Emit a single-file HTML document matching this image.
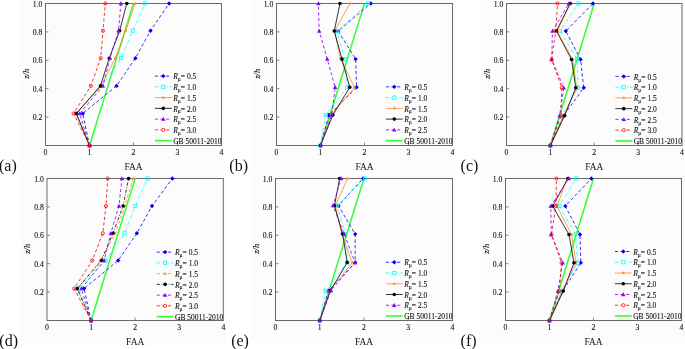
<!DOCTYPE html>
<html><head><meta charset="utf-8"><style>
html,body{margin:0;padding:0;background:#fff;}
body{width:685px;height:349px;overflow:hidden;}
svg{display:block;}
text{font-family:"Liberation Serif","Times New Roman",serif;fill:#111;stroke:#111;stroke-width:0.1px;}
.tl{font-size:7.7px;}
.xl{font-size:9.4px;stroke:none;}
.yl{font-size:8.5px;font-style:italic;}
.pl{font-size:16px;stroke:none;}
.lg{font-size:7.5px;}
.sb{font-size:5.6px;}
</style></head><body>
<svg width="685" height="349" viewBox="0 0 685 349">
<rect width="685" height="349" fill="#fff"/>
<g fill="#fcfcfc">
<rect x="18.5" y="0" width="205" height="170.5"/>
<rect x="250" y="0" width="206" height="170.5"/>
<rect x="480" y="0" width="205" height="170.5"/>
<rect x="21" y="175.3" width="205" height="170.3"/>
<rect x="250" y="175.3" width="205.5" height="170.3"/>
<rect x="479.5" y="175.3" width="205.5" height="170.3"/>
</g>
<g><rect x="45.5" y="3.5" width="176.00" height="142.00" fill="none" stroke="#6a6a6a" stroke-width="1"/>
<line x1="89.50" y1="145.50" x2="133.50" y2="3.50" stroke="#33ff33" stroke-width="1.5"/>
<polyline points="89.50,145.50 82.77,113.50 116.52,85.90 135.39,58.20 150.48,30.70 169.14,3.50" stroke="#0000ff" stroke-width="0.8" fill="none" stroke-dasharray="3.2,2.4"/>
<path d="M89.50,143.30L91.70,145.50L89.50,147.70L87.30,145.50Z" fill="#0000ff"/>
<path d="M82.77,111.30L84.97,113.50L82.77,115.70L80.57,113.50Z" fill="#0000ff"/>
<path d="M116.52,83.70L118.72,85.90L116.52,88.10L114.32,85.90Z" fill="#0000ff"/>
<path d="M135.39,56.00L137.59,58.20L135.39,60.40L133.19,58.20Z" fill="#0000ff"/>
<path d="M150.48,28.50L152.68,30.70L150.48,32.90L148.28,30.70Z" fill="#0000ff"/>
<path d="M169.14,1.30L171.34,3.50L169.14,5.70L166.94,3.50Z" fill="#0000ff"/>
<polyline points="89.50,145.50 76.30,113.50 101.82,85.90 121.18,58.20 132.80,30.70 144.94,3.50" stroke="#00ffff" stroke-width="0.8" fill="none" stroke-dasharray="3.2,1.6,0.8,1.6"/>
<rect x="87.90" y="143.90" width="3.20" height="3.20" fill="none" stroke="#00ffff" stroke-width="0.8"/>
<rect x="74.70" y="111.90" width="3.20" height="3.20" fill="none" stroke="#00ffff" stroke-width="0.8"/>
<rect x="100.22" y="84.30" width="3.20" height="3.20" fill="none" stroke="#00ffff" stroke-width="0.8"/>
<rect x="119.58" y="56.60" width="3.20" height="3.20" fill="none" stroke="#00ffff" stroke-width="0.8"/>
<rect x="131.20" y="29.10" width="3.20" height="3.20" fill="none" stroke="#00ffff" stroke-width="0.8"/>
<rect x="143.34" y="1.90" width="3.20" height="3.20" fill="none" stroke="#00ffff" stroke-width="0.8"/>
<polyline points="89.50,145.50 76.30,113.50 100.94,85.90 115.28,58.20 125.71,30.70 135.08,3.50" stroke="#ff8c26" stroke-width="0.8" fill="none"/>
<polygon points="89.50,143.50 89.97,144.85 91.40,144.88 90.26,145.75 90.68,147.12 89.50,146.30 88.32,147.12 88.74,145.75 87.60,144.88 89.03,144.85" fill="#ff8c26"/>
<polygon points="76.30,111.50 76.77,112.85 78.20,112.88 77.06,113.75 77.48,115.12 76.30,114.30 75.12,115.12 75.54,113.75 74.40,112.88 75.83,112.85" fill="#ff8c26"/>
<polygon points="100.94,83.90 101.41,85.25 102.84,85.28 101.70,86.15 102.12,87.52 100.94,86.70 99.76,87.52 100.18,86.15 99.04,85.28 100.47,85.25" fill="#ff8c26"/>
<polygon points="115.28,56.20 115.75,57.55 117.19,57.58 116.04,58.45 116.46,59.82 115.28,59.00 114.11,59.82 114.52,58.45 113.38,57.58 114.81,57.55" fill="#ff8c26"/>
<polygon points="125.71,28.70 126.18,30.05 127.61,30.08 126.47,30.95 126.89,32.32 125.71,31.50 124.54,32.32 124.95,30.95 123.81,30.08 125.24,30.05" fill="#ff8c26"/>
<polygon points="135.08,1.50 135.55,2.85 136.99,2.88 135.84,3.75 136.26,5.12 135.08,4.30 133.91,5.12 134.32,3.75 133.18,2.88 134.61,2.85" fill="#ff8c26"/>
<polyline points="89.50,145.50 76.30,113.50 100.41,85.90 109.30,58.20 119.64,30.70 126.81,3.50" stroke="#000000" stroke-width="0.8" fill="none"/>
<circle cx="89.50" cy="145.50" r="1.8" fill="#000000"/>
<circle cx="76.30" cy="113.50" r="1.8" fill="#000000"/>
<circle cx="100.41" cy="85.90" r="1.8" fill="#000000"/>
<circle cx="109.30" cy="58.20" r="1.8" fill="#000000"/>
<circle cx="119.64" cy="30.70" r="1.8" fill="#000000"/>
<circle cx="126.81" cy="3.50" r="1.8" fill="#000000"/>
<polyline points="89.50,145.50 79.69,113.50 103.01,85.90 109.92,58.20 118.50,30.70 120.92,3.50" stroke="#8000ff" stroke-width="0.8" fill="none" stroke-dasharray="3.2,2.4"/>
<path d="M89.50,143.30L91.70,147.15L87.30,147.15Z" fill="#8000ff"/>
<path d="M79.69,111.30L81.89,115.15L77.49,115.15Z" fill="#8000ff"/>
<path d="M103.01,83.70L105.21,87.55L100.81,87.55Z" fill="#8000ff"/>
<path d="M109.92,56.00L112.12,59.85L107.72,59.85Z" fill="#8000ff"/>
<path d="M118.50,28.50L120.70,32.35L116.30,32.35Z" fill="#8000ff"/>
<path d="M120.92,1.30L123.12,5.15L118.72,5.15Z" fill="#8000ff"/>
<polyline points="89.50,145.50 73.62,113.50 90.82,85.90 100.72,58.20 103.01,30.70 105.30,3.50" stroke="#ff0000" stroke-width="0.8" fill="none" stroke-dasharray="3.2,2.4"/>
<circle cx="89.50" cy="145.50" r="1.6" fill="none" stroke="#ff0000" stroke-width="0.8"/>
<circle cx="73.62" cy="113.50" r="1.6" fill="none" stroke="#ff0000" stroke-width="0.8"/>
<circle cx="90.82" cy="85.90" r="1.6" fill="none" stroke="#ff0000" stroke-width="0.8"/>
<circle cx="100.72" cy="58.20" r="1.6" fill="none" stroke="#ff0000" stroke-width="0.8"/>
<circle cx="103.01" cy="30.70" r="1.6" fill="none" stroke="#ff0000" stroke-width="0.8"/>
<circle cx="105.30" cy="3.50" r="1.6" fill="none" stroke="#ff0000" stroke-width="0.8"/>
<line x1="89.50" y1="145.5" x2="89.50" y2="142.5" stroke="#6a6a6a" stroke-width="0.8"/>
<line x1="133.50" y1="145.5" x2="133.50" y2="142.5" stroke="#6a6a6a" stroke-width="0.8"/>
<line x1="177.50" y1="145.5" x2="177.50" y2="142.5" stroke="#6a6a6a" stroke-width="0.8"/>
<line x1="45.5" y1="117.10" x2="48.5" y2="117.10" stroke="#6a6a6a" stroke-width="0.8"/>
<line x1="45.5" y1="88.70" x2="48.5" y2="88.70" stroke="#6a6a6a" stroke-width="0.8"/>
<line x1="45.5" y1="60.30" x2="48.5" y2="60.30" stroke="#6a6a6a" stroke-width="0.8"/>
<line x1="45.5" y1="31.90" x2="48.5" y2="31.90" stroke="#6a6a6a" stroke-width="0.8"/>
<text x="45.50" y="155.30" class="tl" text-anchor="middle">0</text>
<text x="89.50" y="155.30" class="tl" text-anchor="middle">1</text>
<text x="133.50" y="155.30" class="tl" text-anchor="middle">2</text>
<text x="177.50" y="155.30" class="tl" text-anchor="middle">3</text>
<text x="221.50" y="155.30" class="tl" text-anchor="middle">4</text>
<text x="42.30" y="120.20" class="tl" text-anchor="end">0.2</text>
<text x="42.30" y="91.80" class="tl" text-anchor="end">0.4</text>
<text x="42.30" y="63.40" class="tl" text-anchor="end">0.6</text>
<text x="42.30" y="35.00" class="tl" text-anchor="end">0.8</text>
<text x="42.30" y="6.60" class="tl" text-anchor="end">1.0</text>
<text x="133.50" y="169.50" class="xl" text-anchor="middle">FAA</text>
<text transform="translate(28.70,73.80) rotate(-90)" class="yl" text-anchor="middle">z/h</text>
<text x="-1" y="170.5" class="pl">(a)</text>
<line x1="154.90" y1="76.10" x2="171.70" y2="76.10" stroke="#0000ff" stroke-width="0.8" fill="none" stroke-dasharray="3.2,2.4"/>
<path d="M163.30,73.90L165.50,76.10L163.30,78.30L161.10,76.10Z" fill="#0000ff"/>
<text x="173.20" y="79.30" class="lg"><tspan font-style="italic">R</tspan><tspan class="sb" dy="1.9">μ</tspan><tspan dy="-1.9">= 0.5</tspan></text>
<line x1="154.90" y1="86.85" x2="171.70" y2="86.85" stroke="#00ffff" stroke-width="0.8" fill="none" stroke-dasharray="3.2,1.6,0.8,1.6"/>
<rect x="161.70" y="85.25" width="3.20" height="3.20" fill="#fff" stroke="#00ffff" stroke-width="0.8"/>
<text x="173.20" y="90.05" class="lg"><tspan font-style="italic">R</tspan><tspan class="sb" dy="1.9">μ</tspan><tspan dy="-1.9">= 1.0</tspan></text>
<line x1="154.90" y1="97.60" x2="171.70" y2="97.60" stroke="#ff8c26" stroke-width="0.8" fill="none"/>
<polygon points="163.30,95.60 163.77,96.95 165.20,96.98 164.06,97.85 164.48,99.22 163.30,98.40 162.12,99.22 162.54,97.85 161.40,96.98 162.83,96.95" fill="#ff8c26"/>
<text x="173.20" y="100.80" class="lg"><tspan font-style="italic">R</tspan><tspan class="sb" dy="1.9">μ</tspan><tspan dy="-1.9">= 1.5</tspan></text>
<line x1="154.90" y1="108.35" x2="171.70" y2="108.35" stroke="#000000" stroke-width="0.8" fill="none"/>
<circle cx="163.30" cy="108.35" r="1.8" fill="#000000"/>
<text x="173.20" y="111.55" class="lg"><tspan font-style="italic">R</tspan><tspan class="sb" dy="1.9">μ</tspan><tspan dy="-1.9">= 2.0</tspan></text>
<line x1="154.90" y1="119.10" x2="171.70" y2="119.10" stroke="#8000ff" stroke-width="0.8" fill="none" stroke-dasharray="3.2,2.4"/>
<path d="M163.30,116.90L165.50,120.75L161.10,120.75Z" fill="#8000ff"/>
<text x="173.20" y="122.30" class="lg"><tspan font-style="italic">R</tspan><tspan class="sb" dy="1.9">μ</tspan><tspan dy="-1.9">= 2.5</tspan></text>
<line x1="154.90" y1="129.85" x2="171.70" y2="129.85" stroke="#ff0000" stroke-width="0.8" fill="none" stroke-dasharray="3.2,2.4"/>
<circle cx="163.30" cy="129.85" r="1.6" fill="#fff" stroke="#ff0000" stroke-width="0.8"/>
<text x="173.20" y="133.05" class="lg"><tspan font-style="italic">R</tspan><tspan class="sb" dy="1.9">μ</tspan><tspan dy="-1.9">= 3.0</tspan></text>
<line x1="154.90" y1="140.60" x2="171.70" y2="140.60" stroke="#33ff33" stroke-width="1.6"/>
<text x="173.20" y="143.80" class="lg">GB 50011-2010</text></g>
<g><rect x="276.5" y="3.5" width="176.00" height="142.00" fill="none" stroke="#6a6a6a" stroke-width="1"/>
<line x1="320.50" y1="145.50" x2="364.50" y2="3.50" stroke="#33ff33" stroke-width="1.5"/>
<polyline points="320.50,145.50 328.86,115.00 356.62,87.30 355.61,59.10 338.10,31.00 370.79,3.50" stroke="#0000ff" stroke-width="0.8" fill="none" stroke-dasharray="3.2,2.4"/>
<path d="M320.50,143.30L322.70,145.50L320.50,147.70L318.30,145.50Z" fill="#0000ff"/>
<path d="M328.86,112.80L331.06,115.00L328.86,117.20L326.66,115.00Z" fill="#0000ff"/>
<path d="M356.62,85.10L358.82,87.30L356.62,89.50L354.42,87.30Z" fill="#0000ff"/>
<path d="M355.61,56.90L357.81,59.10L355.61,61.30L353.41,59.10Z" fill="#0000ff"/>
<path d="M338.10,28.80L340.30,31.00L338.10,33.20L335.90,31.00Z" fill="#0000ff"/>
<path d="M370.79,1.30L372.99,3.50L370.79,5.70L368.59,3.50Z" fill="#0000ff"/>
<polyline points="320.50,145.50 325.69,115.00 347.34,87.30 344.70,59.10 337.09,31.00 367.89,3.50" stroke="#00ffff" stroke-width="0.8" fill="none" stroke-dasharray="3.2,1.6,0.8,1.6"/>
<rect x="318.90" y="143.90" width="3.20" height="3.20" fill="none" stroke="#00ffff" stroke-width="0.8"/>
<rect x="324.09" y="113.40" width="3.20" height="3.20" fill="none" stroke="#00ffff" stroke-width="0.8"/>
<rect x="345.74" y="85.70" width="3.20" height="3.20" fill="none" stroke="#00ffff" stroke-width="0.8"/>
<rect x="343.10" y="57.50" width="3.20" height="3.20" fill="none" stroke="#00ffff" stroke-width="0.8"/>
<rect x="335.49" y="29.40" width="3.20" height="3.20" fill="none" stroke="#00ffff" stroke-width="0.8"/>
<rect x="366.29" y="1.90" width="3.20" height="3.20" fill="none" stroke="#00ffff" stroke-width="0.8"/>
<polyline points="320.50,145.50 331.06,115.00 354.51,87.30 340.52,59.10 334.58,31.00 350.02,3.50" stroke="#ff8c26" stroke-width="0.8" fill="none"/>
<polygon points="320.50,143.50 320.97,144.85 322.40,144.88 321.26,145.75 321.68,147.12 320.50,146.30 319.32,147.12 319.74,145.75 318.60,144.88 320.03,144.85" fill="#ff8c26"/>
<polygon points="331.06,113.00 331.53,114.35 332.96,114.38 331.82,115.25 332.24,116.62 331.06,115.80 329.88,116.62 330.30,115.25 329.16,114.38 330.59,114.35" fill="#ff8c26"/>
<polygon points="354.51,85.30 354.98,86.65 356.41,86.68 355.27,87.55 355.69,88.92 354.51,88.10 353.34,88.92 353.75,87.55 352.61,86.68 354.04,86.65" fill="#ff8c26"/>
<polygon points="340.52,57.10 340.99,58.45 342.42,58.48 341.28,59.35 341.70,60.72 340.52,59.90 339.34,60.72 339.76,59.35 338.62,58.48 340.05,58.45" fill="#ff8c26"/>
<polygon points="334.58,29.00 335.05,30.35 336.48,30.38 335.34,31.25 335.76,32.62 334.58,31.80 333.40,32.62 333.82,31.25 332.68,30.38 334.11,30.35" fill="#ff8c26"/>
<polygon points="350.02,1.50 350.49,2.85 351.93,2.88 350.78,3.75 351.20,5.12 350.02,4.30 348.85,5.12 349.26,3.75 348.12,2.88 349.55,2.85" fill="#ff8c26"/>
<polyline points="320.50,145.50 332.86,115.00 349.76,87.30 341.93,59.10 334.27,31.00 339.95,3.50" stroke="#000000" stroke-width="0.8" fill="none"/>
<circle cx="320.50" cy="145.50" r="1.8" fill="#000000"/>
<circle cx="332.86" cy="115.00" r="1.8" fill="#000000"/>
<circle cx="349.76" cy="87.30" r="1.8" fill="#000000"/>
<circle cx="341.93" cy="59.10" r="1.8" fill="#000000"/>
<circle cx="334.27" cy="31.00" r="1.8" fill="#000000"/>
<circle cx="339.95" cy="3.50" r="1.8" fill="#000000"/>
<polyline points="320.50,145.50 331.76,115.00 335.15,87.30 327.28,59.10 319.18,31.00 318.39,3.50" stroke="#8000ff" stroke-width="0.8" fill="none" stroke-dasharray="3.2,2.4"/>
<path d="M320.50,143.30L322.70,147.15L318.30,147.15Z" fill="#8000ff"/>
<path d="M331.76,112.80L333.96,116.65L329.56,116.65Z" fill="#8000ff"/>
<path d="M335.15,85.10L337.35,88.95L332.95,88.95Z" fill="#8000ff"/>
<path d="M327.28,56.90L329.48,60.75L325.08,60.75Z" fill="#8000ff"/>
<path d="M319.18,28.80L321.38,32.65L316.98,32.65Z" fill="#8000ff"/>
<path d="M318.39,1.30L320.59,5.15L316.19,5.15Z" fill="#8000ff"/>
<line x1="320.50" y1="145.5" x2="320.50" y2="142.5" stroke="#6a6a6a" stroke-width="0.8"/>
<line x1="364.50" y1="145.5" x2="364.50" y2="142.5" stroke="#6a6a6a" stroke-width="0.8"/>
<line x1="408.50" y1="145.5" x2="408.50" y2="142.5" stroke="#6a6a6a" stroke-width="0.8"/>
<line x1="276.5" y1="117.10" x2="279.5" y2="117.10" stroke="#6a6a6a" stroke-width="0.8"/>
<line x1="276.5" y1="88.70" x2="279.5" y2="88.70" stroke="#6a6a6a" stroke-width="0.8"/>
<line x1="276.5" y1="60.30" x2="279.5" y2="60.30" stroke="#6a6a6a" stroke-width="0.8"/>
<line x1="276.5" y1="31.90" x2="279.5" y2="31.90" stroke="#6a6a6a" stroke-width="0.8"/>
<text x="276.50" y="155.30" class="tl" text-anchor="middle">0</text>
<text x="320.50" y="155.30" class="tl" text-anchor="middle">1</text>
<text x="364.50" y="155.30" class="tl" text-anchor="middle">2</text>
<text x="408.50" y="155.30" class="tl" text-anchor="middle">3</text>
<text x="452.50" y="155.30" class="tl" text-anchor="middle">4</text>
<text x="273.30" y="120.20" class="tl" text-anchor="end">0.2</text>
<text x="273.30" y="91.80" class="tl" text-anchor="end">0.4</text>
<text x="273.30" y="63.40" class="tl" text-anchor="end">0.6</text>
<text x="273.30" y="35.00" class="tl" text-anchor="end">0.8</text>
<text x="273.30" y="6.60" class="tl" text-anchor="end">1.0</text>
<text x="364.50" y="169.50" class="xl" text-anchor="middle">FAA</text>
<text transform="translate(259.70,73.80) rotate(-90)" class="yl" text-anchor="middle">z/h</text>
<text x="229.3" y="170.5" class="pl">(b)</text>
<line x1="385.90" y1="86.85" x2="402.70" y2="86.85" stroke="#0000ff" stroke-width="0.8" fill="none" stroke-dasharray="3.2,2.4"/>
<path d="M394.30,84.65L396.50,86.85L394.30,89.05L392.10,86.85Z" fill="#0000ff"/>
<text x="404.20" y="90.05" class="lg"><tspan font-style="italic">R</tspan><tspan class="sb" dy="1.9">μ</tspan><tspan dy="-1.9">= 0.5</tspan></text>
<line x1="385.90" y1="97.60" x2="402.70" y2="97.60" stroke="#00ffff" stroke-width="0.8" fill="none" stroke-dasharray="3.2,1.6,0.8,1.6"/>
<rect x="392.70" y="96.00" width="3.20" height="3.20" fill="#fff" stroke="#00ffff" stroke-width="0.8"/>
<text x="404.20" y="100.80" class="lg"><tspan font-style="italic">R</tspan><tspan class="sb" dy="1.9">μ</tspan><tspan dy="-1.9">= 1.0</tspan></text>
<line x1="385.90" y1="108.35" x2="402.70" y2="108.35" stroke="#ff8c26" stroke-width="0.8" fill="none"/>
<polygon points="394.30,106.35 394.77,107.70 396.20,107.73 395.06,108.60 395.48,109.97 394.30,109.15 393.12,109.97 393.54,108.60 392.40,107.73 393.83,107.70" fill="#ff8c26"/>
<text x="404.20" y="111.55" class="lg"><tspan font-style="italic">R</tspan><tspan class="sb" dy="1.9">μ</tspan><tspan dy="-1.9">= 1.5</tspan></text>
<line x1="385.90" y1="119.10" x2="402.70" y2="119.10" stroke="#000000" stroke-width="0.8" fill="none"/>
<circle cx="394.30" cy="119.10" r="1.8" fill="#000000"/>
<text x="404.20" y="122.30" class="lg"><tspan font-style="italic">R</tspan><tspan class="sb" dy="1.9">μ</tspan><tspan dy="-1.9">= 2.0</tspan></text>
<line x1="385.90" y1="129.85" x2="402.70" y2="129.85" stroke="#8000ff" stroke-width="0.8" fill="none" stroke-dasharray="3.2,2.4"/>
<path d="M394.30,127.65L396.50,131.50L392.10,131.50Z" fill="#8000ff"/>
<text x="404.20" y="133.05" class="lg"><tspan font-style="italic">R</tspan><tspan class="sb" dy="1.9">μ</tspan><tspan dy="-1.9">= 2.5</tspan></text>
<line x1="385.90" y1="140.60" x2="402.70" y2="140.60" stroke="#33ff33" stroke-width="1.6"/>
<text x="404.20" y="143.80" class="lg">GB 50011-2010</text></g>
<g><rect x="506.5" y="3.5" width="175.50" height="142.00" fill="none" stroke="#6a6a6a" stroke-width="1"/>
<line x1="550.38" y1="145.50" x2="594.25" y2="3.50" stroke="#33ff33" stroke-width="1.5"/>
<polyline points="550.38,145.50 563.54,115.70 583.76,87.80 580.56,59.50 565.78,31.00 592.93,3.50" stroke="#0000ff" stroke-width="0.8" fill="none" stroke-dasharray="3.2,2.4"/>
<path d="M550.38,143.30L552.58,145.50L550.38,147.70L548.17,145.50Z" fill="#0000ff"/>
<path d="M563.54,113.50L565.74,115.70L563.54,117.90L561.34,115.70Z" fill="#0000ff"/>
<path d="M583.76,85.60L585.96,87.80L583.76,90.00L581.56,87.80Z" fill="#0000ff"/>
<path d="M580.56,57.30L582.76,59.50L580.56,61.70L578.36,59.50Z" fill="#0000ff"/>
<path d="M565.78,28.80L567.98,31.00L565.78,33.20L563.58,31.00Z" fill="#0000ff"/>
<path d="M592.93,1.30L595.13,3.50L592.93,5.70L590.73,3.50Z" fill="#0000ff"/>
<polyline points="550.38,145.50 562.22,115.70 578.15,87.80 577.14,59.50 559.98,31.00 578.46,3.50" stroke="#00ffff" stroke-width="0.8" fill="none" stroke-dasharray="3.2,1.6,0.8,1.6"/>
<rect x="548.77" y="143.90" width="3.20" height="3.20" fill="none" stroke="#00ffff" stroke-width="0.8"/>
<rect x="560.62" y="114.10" width="3.20" height="3.20" fill="none" stroke="#00ffff" stroke-width="0.8"/>
<rect x="576.55" y="86.20" width="3.20" height="3.20" fill="none" stroke="#00ffff" stroke-width="0.8"/>
<rect x="575.54" y="57.90" width="3.20" height="3.20" fill="none" stroke="#00ffff" stroke-width="0.8"/>
<rect x="558.38" y="29.40" width="3.20" height="3.20" fill="none" stroke="#00ffff" stroke-width="0.8"/>
<rect x="576.86" y="1.90" width="3.20" height="3.20" fill="none" stroke="#00ffff" stroke-width="0.8"/>
<polyline points="550.38,145.50 563.54,115.70 576.70,87.80 572.75,59.50 557.26,31.00 570.12,3.50" stroke="#ff8c26" stroke-width="0.8" fill="none"/>
<polygon points="550.38,143.50 550.85,144.85 552.28,144.88 551.14,145.75 551.55,147.12 550.38,146.30 549.20,147.12 549.61,145.75 548.47,144.88 549.90,144.85" fill="#ff8c26"/>
<polygon points="563.54,113.70 564.01,115.05 565.44,115.08 564.30,115.95 564.71,117.32 563.54,116.50 562.36,117.32 562.78,115.95 561.64,115.08 563.07,115.05" fill="#ff8c26"/>
<polygon points="576.70,85.80 577.17,87.15 578.60,87.18 577.46,88.05 577.88,89.42 576.70,88.60 575.52,89.42 575.94,88.05 574.80,87.18 576.23,87.15" fill="#ff8c26"/>
<polygon points="572.75,57.50 573.22,58.85 574.65,58.88 573.51,59.75 573.93,61.12 572.75,60.30 571.58,61.12 571.99,59.75 570.85,58.88 572.28,58.85" fill="#ff8c26"/>
<polygon points="557.26,29.00 557.73,30.35 559.17,30.38 558.02,31.25 558.44,32.62 557.26,31.80 556.09,32.62 556.50,31.25 555.36,30.38 556.79,30.35" fill="#ff8c26"/>
<polygon points="570.12,1.50 570.59,2.85 572.02,2.88 570.88,3.75 571.29,5.12 570.12,4.30 568.94,5.12 569.36,3.75 568.22,2.88 569.65,2.85" fill="#ff8c26"/>
<polyline points="550.38,145.50 564.68,115.70 575.78,87.80 571.57,59.50 556.39,31.00 570.25,3.50" stroke="#000000" stroke-width="0.8" fill="none"/>
<circle cx="550.38" cy="145.50" r="1.8" fill="#000000"/>
<circle cx="564.68" cy="115.70" r="1.8" fill="#000000"/>
<circle cx="575.78" cy="87.80" r="1.8" fill="#000000"/>
<circle cx="571.57" cy="59.50" r="1.8" fill="#000000"/>
<circle cx="556.39" cy="31.00" r="1.8" fill="#000000"/>
<circle cx="570.25" cy="3.50" r="1.8" fill="#000000"/>
<polyline points="550.38,145.50 559.59,115.70 563.76,87.80 551.69,59.50 552.48,31.00 568.85,3.50" stroke="#8000ff" stroke-width="0.8" fill="none" stroke-dasharray="3.2,2.4"/>
<path d="M550.38,143.30L552.58,147.15L548.17,147.15Z" fill="#8000ff"/>
<path d="M559.59,113.50L561.79,117.35L557.39,117.35Z" fill="#8000ff"/>
<path d="M563.76,85.60L565.96,89.45L561.56,89.45Z" fill="#8000ff"/>
<path d="M551.69,57.30L553.89,61.15L549.49,61.15Z" fill="#8000ff"/>
<path d="M552.48,28.80L554.68,32.65L550.28,32.65Z" fill="#8000ff"/>
<path d="M568.85,1.30L571.05,5.15L566.65,5.15Z" fill="#8000ff"/>
<polyline points="550.38,145.50 560.90,115.70 561.78,87.80 551.69,59.50 555.77,31.00 557.48,3.50" stroke="#ff0000" stroke-width="0.8" fill="none" stroke-dasharray="3.2,2.4"/>
<circle cx="550.38" cy="145.50" r="1.6" fill="none" stroke="#ff0000" stroke-width="0.8"/>
<circle cx="560.90" cy="115.70" r="1.6" fill="none" stroke="#ff0000" stroke-width="0.8"/>
<circle cx="561.78" cy="87.80" r="1.6" fill="none" stroke="#ff0000" stroke-width="0.8"/>
<circle cx="551.69" cy="59.50" r="1.6" fill="none" stroke="#ff0000" stroke-width="0.8"/>
<circle cx="555.77" cy="31.00" r="1.6" fill="none" stroke="#ff0000" stroke-width="0.8"/>
<circle cx="557.48" cy="3.50" r="1.6" fill="none" stroke="#ff0000" stroke-width="0.8"/>
<line x1="550.38" y1="145.5" x2="550.38" y2="142.5" stroke="#6a6a6a" stroke-width="0.8"/>
<line x1="594.25" y1="145.5" x2="594.25" y2="142.5" stroke="#6a6a6a" stroke-width="0.8"/>
<line x1="638.12" y1="145.5" x2="638.12" y2="142.5" stroke="#6a6a6a" stroke-width="0.8"/>
<line x1="506.5" y1="117.10" x2="509.5" y2="117.10" stroke="#6a6a6a" stroke-width="0.8"/>
<line x1="506.5" y1="88.70" x2="509.5" y2="88.70" stroke="#6a6a6a" stroke-width="0.8"/>
<line x1="506.5" y1="60.30" x2="509.5" y2="60.30" stroke="#6a6a6a" stroke-width="0.8"/>
<line x1="506.5" y1="31.90" x2="509.5" y2="31.90" stroke="#6a6a6a" stroke-width="0.8"/>
<text x="506.50" y="155.30" class="tl" text-anchor="middle">0</text>
<text x="550.38" y="155.30" class="tl" text-anchor="middle">1</text>
<text x="594.25" y="155.30" class="tl" text-anchor="middle">2</text>
<text x="638.12" y="155.30" class="tl" text-anchor="middle">3</text>
<text x="682.00" y="155.30" class="tl" text-anchor="middle">4</text>
<text x="503.30" y="120.20" class="tl" text-anchor="end">0.2</text>
<text x="503.30" y="91.80" class="tl" text-anchor="end">0.4</text>
<text x="503.30" y="63.40" class="tl" text-anchor="end">0.6</text>
<text x="503.30" y="35.00" class="tl" text-anchor="end">0.8</text>
<text x="503.30" y="6.60" class="tl" text-anchor="end">1.0</text>
<text x="594.25" y="169.50" class="xl" text-anchor="middle">FAA</text>
<text transform="translate(489.70,73.80) rotate(-90)" class="yl" text-anchor="middle">z/h</text>
<text x="460.6" y="170.5" class="pl">(c)</text>
<line x1="615.40" y1="76.40" x2="632.20" y2="76.40" stroke="#0000ff" stroke-width="0.8" fill="none" stroke-dasharray="3.2,2.4"/>
<path d="M623.80,74.20L626.00,76.40L623.80,78.60L621.60,76.40Z" fill="#0000ff"/>
<text x="633.70" y="79.60" class="lg"><tspan font-style="italic">R</tspan><tspan class="sb" dy="1.9">μ</tspan><tspan dy="-1.9">= 0.5</tspan></text>
<line x1="615.40" y1="87.15" x2="632.20" y2="87.15" stroke="#00ffff" stroke-width="0.8" fill="none" stroke-dasharray="3.2,1.6,0.8,1.6"/>
<rect x="622.20" y="85.55" width="3.20" height="3.20" fill="#fff" stroke="#00ffff" stroke-width="0.8"/>
<text x="633.70" y="90.35" class="lg"><tspan font-style="italic">R</tspan><tspan class="sb" dy="1.9">μ</tspan><tspan dy="-1.9">= 1.0</tspan></text>
<line x1="615.40" y1="97.90" x2="632.20" y2="97.90" stroke="#ff8c26" stroke-width="0.8" fill="none"/>
<polygon points="623.80,95.90 624.27,97.25 625.70,97.28 624.56,98.15 624.98,99.52 623.80,98.70 622.62,99.52 623.04,98.15 621.90,97.28 623.33,97.25" fill="#ff8c26"/>
<text x="633.70" y="101.10" class="lg"><tspan font-style="italic">R</tspan><tspan class="sb" dy="1.9">μ</tspan><tspan dy="-1.9">= 1.5</tspan></text>
<line x1="615.40" y1="108.65" x2="632.20" y2="108.65" stroke="#000000" stroke-width="0.8" fill="none"/>
<circle cx="623.80" cy="108.65" r="1.8" fill="#000000"/>
<text x="633.70" y="111.85" class="lg"><tspan font-style="italic">R</tspan><tspan class="sb" dy="1.9">μ</tspan><tspan dy="-1.9">= 2.0</tspan></text>
<line x1="615.40" y1="119.40" x2="632.20" y2="119.40" stroke="#8000ff" stroke-width="0.8" fill="none" stroke-dasharray="3.2,2.4"/>
<path d="M623.80,117.20L626.00,121.05L621.60,121.05Z" fill="#8000ff"/>
<text x="633.70" y="122.60" class="lg"><tspan font-style="italic">R</tspan><tspan class="sb" dy="1.9">μ</tspan><tspan dy="-1.9">= 2.5</tspan></text>
<line x1="615.40" y1="130.15" x2="632.20" y2="130.15" stroke="#ff0000" stroke-width="0.8" fill="none" stroke-dasharray="3.2,2.4"/>
<circle cx="623.80" cy="130.15" r="1.6" fill="#fff" stroke="#ff0000" stroke-width="0.8"/>
<text x="633.70" y="133.35" class="lg"><tspan font-style="italic">R</tspan><tspan class="sb" dy="1.9">μ</tspan><tspan dy="-1.9">= 3.0</tspan></text>
<line x1="615.40" y1="140.90" x2="632.20" y2="140.90" stroke="#33ff33" stroke-width="1.6"/>
<text x="633.70" y="144.10" class="lg">GB 50011-2010</text></g>
<g><rect x="47.0" y="178.5" width="176.30" height="142.00" fill="none" stroke="#6a6a6a" stroke-width="1"/>
<line x1="91.08" y1="320.50" x2="135.15" y2="178.50" stroke="#33ff33" stroke-width="1.5"/>
<polyline points="91.08,320.50 84.11,288.60 118.18,260.50 136.87,233.30 151.99,206.00 172.39,178.50" stroke="#0000ff" stroke-width="0.8" fill="none" stroke-dasharray="3.2,2.4"/>
<path d="M91.08,318.30L93.28,320.50L91.08,322.70L88.88,320.50Z" fill="#0000ff"/>
<path d="M84.11,286.40L86.31,288.60L84.11,290.80L81.91,288.60Z" fill="#0000ff"/>
<path d="M118.18,258.30L120.38,260.50L118.18,262.70L115.98,260.50Z" fill="#0000ff"/>
<path d="M136.87,231.10L139.07,233.30L136.87,235.50L134.67,233.30Z" fill="#0000ff"/>
<path d="M151.99,203.80L154.19,206.00L151.99,208.20L149.79,206.00Z" fill="#0000ff"/>
<path d="M172.39,176.30L174.59,178.50L172.39,180.70L170.19,178.50Z" fill="#0000ff"/>
<polyline points="91.08,320.50 78.73,288.60 105.62,260.50 124.57,233.30 135.37,206.00 147.67,178.50" stroke="#00ffff" stroke-width="0.8" fill="none" stroke-dasharray="3.2,1.6,0.8,1.6"/>
<rect x="89.48" y="318.90" width="3.20" height="3.20" fill="none" stroke="#00ffff" stroke-width="0.8"/>
<rect x="77.13" y="287.00" width="3.20" height="3.20" fill="none" stroke="#00ffff" stroke-width="0.8"/>
<rect x="104.02" y="258.90" width="3.20" height="3.20" fill="none" stroke="#00ffff" stroke-width="0.8"/>
<rect x="122.97" y="231.70" width="3.20" height="3.20" fill="none" stroke="#00ffff" stroke-width="0.8"/>
<rect x="133.77" y="204.40" width="3.20" height="3.20" fill="none" stroke="#00ffff" stroke-width="0.8"/>
<rect x="146.07" y="176.90" width="3.20" height="3.20" fill="none" stroke="#00ffff" stroke-width="0.8"/>
<polyline points="91.08,320.50 77.41,288.60 100.33,260.50 115.27,233.30 124.88,206.00 133.08,178.50" stroke="#ff8c26" stroke-width="0.8" fill="none" stroke-dasharray="3.2,2.4"/>
<polygon points="91.08,318.50 91.55,319.85 92.98,319.88 91.84,320.75 92.25,322.12 91.08,321.30 89.90,322.12 90.31,320.75 89.17,319.88 90.60,319.85" fill="#ff8c26"/>
<polygon points="77.41,286.60 77.88,287.95 79.31,287.98 78.17,288.85 78.59,290.22 77.41,289.40 76.24,290.22 76.65,288.85 75.51,287.98 76.94,287.95" fill="#ff8c26"/>
<polygon points="100.33,258.50 100.80,259.85 102.23,259.88 101.09,260.75 101.51,262.12 100.33,261.30 99.16,262.12 99.57,260.75 98.43,259.88 99.86,259.85" fill="#ff8c26"/>
<polygon points="115.27,231.30 115.74,232.65 117.17,232.68 116.03,233.55 116.45,234.92 115.27,234.10 114.10,234.92 114.51,233.55 113.37,232.68 114.80,232.65" fill="#ff8c26"/>
<polygon points="124.88,204.00 125.35,205.35 126.78,205.38 125.64,206.25 126.06,207.62 124.88,206.80 123.70,207.62 124.12,206.25 122.98,205.38 124.41,205.35" fill="#ff8c26"/>
<polygon points="133.08,176.50 133.55,177.85 134.98,177.88 133.84,178.75 134.25,180.12 133.08,179.30 131.90,180.12 132.32,178.75 131.18,177.88 132.61,177.85" fill="#ff8c26"/>
<polyline points="91.08,320.50 77.24,288.60 101.48,260.50 112.98,233.30 123.07,206.00 128.58,178.50" stroke="#000000" stroke-width="0.8" fill="none" stroke-dasharray="3.2,1.6,0.8,1.6"/>
<circle cx="91.08" cy="320.50" r="1.8" fill="#000000"/>
<circle cx="77.24" cy="288.60" r="1.8" fill="#000000"/>
<circle cx="101.48" cy="260.50" r="1.8" fill="#000000"/>
<circle cx="112.98" cy="233.30" r="1.8" fill="#000000"/>
<circle cx="123.07" cy="206.00" r="1.8" fill="#000000"/>
<circle cx="128.58" cy="178.50" r="1.8" fill="#000000"/>
<polyline points="91.08,320.50 81.38,288.60 104.08,260.50 110.78,233.30 118.97,206.00 121.93,178.50" stroke="#8000ff" stroke-width="0.8" fill="none" stroke-dasharray="3.2,2.4"/>
<path d="M91.08,318.30L93.28,322.15L88.88,322.15Z" fill="#8000ff"/>
<path d="M81.38,286.40L83.58,290.25L79.18,290.25Z" fill="#8000ff"/>
<path d="M104.08,258.30L106.28,262.15L101.88,262.15Z" fill="#8000ff"/>
<path d="M110.78,231.10L112.98,234.95L108.58,234.95Z" fill="#8000ff"/>
<path d="M118.97,203.80L121.17,207.65L116.77,207.65Z" fill="#8000ff"/>
<path d="M121.93,176.30L124.13,180.15L119.73,180.15Z" fill="#8000ff"/>
<polyline points="91.08,320.50 74.19,288.60 92.18,260.50 102.80,233.30 105.97,206.00 107.69,178.50" stroke="#ff0000" stroke-width="0.8" fill="none" stroke-dasharray="3.2,2.4"/>
<circle cx="91.08" cy="320.50" r="1.6" fill="none" stroke="#ff0000" stroke-width="0.8"/>
<circle cx="74.19" cy="288.60" r="1.6" fill="none" stroke="#ff0000" stroke-width="0.8"/>
<circle cx="92.18" cy="260.50" r="1.6" fill="none" stroke="#ff0000" stroke-width="0.8"/>
<circle cx="102.80" cy="233.30" r="1.6" fill="none" stroke="#ff0000" stroke-width="0.8"/>
<circle cx="105.97" cy="206.00" r="1.6" fill="none" stroke="#ff0000" stroke-width="0.8"/>
<circle cx="107.69" cy="178.50" r="1.6" fill="none" stroke="#ff0000" stroke-width="0.8"/>
<line x1="91.08" y1="320.5" x2="91.08" y2="317.5" stroke="#6a6a6a" stroke-width="0.8"/>
<line x1="135.15" y1="320.5" x2="135.15" y2="317.5" stroke="#6a6a6a" stroke-width="0.8"/>
<line x1="179.23" y1="320.5" x2="179.23" y2="317.5" stroke="#6a6a6a" stroke-width="0.8"/>
<line x1="47.0" y1="292.10" x2="50.0" y2="292.10" stroke="#6a6a6a" stroke-width="0.8"/>
<line x1="47.0" y1="263.70" x2="50.0" y2="263.70" stroke="#6a6a6a" stroke-width="0.8"/>
<line x1="47.0" y1="235.30" x2="50.0" y2="235.30" stroke="#6a6a6a" stroke-width="0.8"/>
<line x1="47.0" y1="206.90" x2="50.0" y2="206.90" stroke="#6a6a6a" stroke-width="0.8"/>
<text x="47.00" y="330.30" class="tl" text-anchor="middle">0</text>
<text x="91.08" y="330.30" class="tl" text-anchor="middle">1</text>
<text x="135.15" y="330.30" class="tl" text-anchor="middle">2</text>
<text x="179.23" y="330.30" class="tl" text-anchor="middle">3</text>
<text x="223.30" y="330.30" class="tl" text-anchor="middle">4</text>
<text x="43.80" y="295.20" class="tl" text-anchor="end">0.2</text>
<text x="43.80" y="266.80" class="tl" text-anchor="end">0.4</text>
<text x="43.80" y="238.40" class="tl" text-anchor="end">0.6</text>
<text x="43.80" y="210.00" class="tl" text-anchor="end">0.8</text>
<text x="43.80" y="181.60" class="tl" text-anchor="end">1.0</text>
<text x="135.15" y="344.50" class="xl" text-anchor="middle">FAA</text>
<text transform="translate(30.20,248.80) rotate(-90)" class="yl" text-anchor="middle">z/h</text>
<text x="-0.7" y="345.5" class="pl">(d)</text>
<line x1="156.70" y1="252.10" x2="173.50" y2="252.10" stroke="#0000ff" stroke-width="0.8" fill="none" stroke-dasharray="3.2,2.4"/>
<path d="M165.10,249.90L167.30,252.10L165.10,254.30L162.90,252.10Z" fill="#0000ff"/>
<text x="175.00" y="255.30" class="lg"><tspan font-style="italic">R</tspan><tspan class="sb" dy="1.9">μ</tspan><tspan dy="-1.9">= 0.5</tspan></text>
<line x1="156.70" y1="262.85" x2="173.50" y2="262.85" stroke="#00ffff" stroke-width="0.8" fill="none" stroke-dasharray="3.2,1.6,0.8,1.6"/>
<rect x="163.50" y="261.25" width="3.20" height="3.20" fill="#fff" stroke="#00ffff" stroke-width="0.8"/>
<text x="175.00" y="266.05" class="lg"><tspan font-style="italic">R</tspan><tspan class="sb" dy="1.9">μ</tspan><tspan dy="-1.9">= 1.0</tspan></text>
<line x1="156.70" y1="273.60" x2="173.50" y2="273.60" stroke="#ff8c26" stroke-width="0.8" fill="none" stroke-dasharray="3.2,2.4"/>
<polygon points="165.10,271.60 165.57,272.95 167.00,272.98 165.86,273.85 166.28,275.22 165.10,274.40 163.92,275.22 164.34,273.85 163.20,272.98 164.63,272.95" fill="#ff8c26"/>
<text x="175.00" y="276.80" class="lg"><tspan font-style="italic">R</tspan><tspan class="sb" dy="1.9">μ</tspan><tspan dy="-1.9">= 1.5</tspan></text>
<line x1="156.70" y1="284.35" x2="173.50" y2="284.35" stroke="#000000" stroke-width="0.8" fill="none" stroke-dasharray="3.2,1.6,0.8,1.6"/>
<circle cx="165.10" cy="284.35" r="1.8" fill="#000000"/>
<text x="175.00" y="287.55" class="lg"><tspan font-style="italic">R</tspan><tspan class="sb" dy="1.9">μ</tspan><tspan dy="-1.9">= 2.0</tspan></text>
<line x1="156.70" y1="295.10" x2="173.50" y2="295.10" stroke="#8000ff" stroke-width="0.8" fill="none" stroke-dasharray="3.2,2.4"/>
<path d="M165.10,292.90L167.30,296.75L162.90,296.75Z" fill="#8000ff"/>
<text x="175.00" y="298.30" class="lg"><tspan font-style="italic">R</tspan><tspan class="sb" dy="1.9">μ</tspan><tspan dy="-1.9">= 2.5</tspan></text>
<line x1="156.70" y1="305.85" x2="173.50" y2="305.85" stroke="#ff0000" stroke-width="0.8" fill="none" stroke-dasharray="3.2,2.4"/>
<circle cx="165.10" cy="305.85" r="1.6" fill="#fff" stroke="#ff0000" stroke-width="0.8"/>
<text x="175.00" y="309.05" class="lg"><tspan font-style="italic">R</tspan><tspan class="sb" dy="1.9">μ</tspan><tspan dy="-1.9">= 3.0</tspan></text>
<line x1="156.70" y1="316.60" x2="173.50" y2="316.60" stroke="#33ff33" stroke-width="1.6"/>
<text x="175.00" y="319.80" class="lg">GB 50011-2010</text></g>
<g><rect x="275.5" y="178.5" width="177.00" height="142.00" fill="none" stroke="#6a6a6a" stroke-width="1"/>
<line x1="319.75" y1="320.50" x2="364.00" y2="178.50" stroke="#33ff33" stroke-width="1.5"/>
<polyline points="319.75,320.50 328.60,290.70 355.15,262.50 355.19,234.10 338.42,205.70 363.03,178.50" stroke="#0000ff" stroke-width="0.8" fill="none" stroke-dasharray="3.2,2.4"/>
<path d="M319.75,318.30L321.95,320.50L319.75,322.70L317.55,320.50Z" fill="#0000ff"/>
<path d="M328.60,288.50L330.80,290.70L328.60,292.90L326.40,290.70Z" fill="#0000ff"/>
<path d="M355.15,260.30L357.35,262.50L355.15,264.70L352.95,262.50Z" fill="#0000ff"/>
<path d="M355.19,231.90L357.39,234.10L355.19,236.30L352.99,234.10Z" fill="#0000ff"/>
<path d="M338.42,203.50L340.62,205.70L338.42,207.90L336.22,205.70Z" fill="#0000ff"/>
<path d="M363.03,176.30L365.23,178.50L363.03,180.70L360.83,178.50Z" fill="#0000ff"/>
<polyline points="319.75,320.50 325.46,290.70 347.41,262.50 345.42,234.10 337.01,205.70 364.80,178.50" stroke="#00ffff" stroke-width="0.8" fill="none" stroke-dasharray="3.2,1.6,0.8,1.6"/>
<rect x="318.15" y="318.90" width="3.20" height="3.20" fill="none" stroke="#00ffff" stroke-width="0.8"/>
<rect x="323.86" y="289.10" width="3.20" height="3.20" fill="none" stroke="#00ffff" stroke-width="0.8"/>
<rect x="345.81" y="260.90" width="3.20" height="3.20" fill="none" stroke="#00ffff" stroke-width="0.8"/>
<rect x="343.81" y="232.50" width="3.20" height="3.20" fill="none" stroke="#00ffff" stroke-width="0.8"/>
<rect x="335.41" y="204.10" width="3.20" height="3.20" fill="none" stroke="#00ffff" stroke-width="0.8"/>
<rect x="363.20" y="176.90" width="3.20" height="3.20" fill="none" stroke="#00ffff" stroke-width="0.8"/>
<polyline points="319.75,320.50 329.49,290.70 352.32,262.50 341.83,234.10 335.24,205.70 347.63,178.50" stroke="#ff8c26" stroke-width="0.8" fill="none"/>
<polygon points="319.75,318.50 320.22,319.85 321.65,319.88 320.51,320.75 320.93,322.12 319.75,321.30 318.57,322.12 318.99,320.75 317.85,319.88 319.28,319.85" fill="#ff8c26"/>
<polygon points="329.49,288.70 329.96,290.05 331.39,290.08 330.25,290.95 330.66,292.32 329.49,291.50 328.31,292.32 328.72,290.95 327.58,290.08 329.01,290.05" fill="#ff8c26"/>
<polygon points="352.32,260.50 352.79,261.85 354.22,261.88 353.08,262.75 353.49,264.12 352.32,263.30 351.14,264.12 351.56,262.75 350.42,261.88 351.85,261.85" fill="#ff8c26"/>
<polygon points="341.83,232.10 342.30,233.45 343.73,233.48 342.59,234.35 343.01,235.72 341.83,234.90 340.66,235.72 341.07,234.35 339.93,233.48 341.36,233.45" fill="#ff8c26"/>
<polygon points="335.24,203.70 335.71,205.05 337.14,205.08 336.00,205.95 336.41,207.32 335.24,206.50 334.06,207.32 334.48,205.95 333.34,205.08 334.77,205.05" fill="#ff8c26"/>
<polygon points="347.63,176.50 348.10,177.85 349.53,177.88 348.39,178.75 348.80,180.12 347.63,179.30 346.45,180.12 346.87,178.75 345.73,177.88 347.16,177.85" fill="#ff8c26"/>
<polyline points="319.75,320.50 330.37,290.70 347.19,262.50 342.63,234.10 334.44,205.70 339.62,178.50" stroke="#000000" stroke-width="0.8" fill="none"/>
<circle cx="319.75" cy="320.50" r="1.8" fill="#000000"/>
<circle cx="330.37" cy="290.70" r="1.8" fill="#000000"/>
<circle cx="347.19" cy="262.50" r="1.8" fill="#000000"/>
<circle cx="342.63" cy="234.10" r="1.8" fill="#000000"/>
<circle cx="334.44" cy="205.70" r="1.8" fill="#000000"/>
<circle cx="339.62" cy="178.50" r="1.8" fill="#000000"/>
<polyline points="319.75,320.50 330.95,290.70 355.02,262.50 344.22,234.10 332.94,205.70 341.12,178.50" stroke="#8000ff" stroke-width="0.8" fill="none" stroke-dasharray="3.2,2.4"/>
<path d="M319.75,318.30L321.95,322.15L317.55,322.15Z" fill="#8000ff"/>
<path d="M330.95,288.50L333.15,292.35L328.75,292.35Z" fill="#8000ff"/>
<path d="M355.02,260.30L357.22,264.15L352.82,264.15Z" fill="#8000ff"/>
<path d="M344.22,231.90L346.42,235.75L342.02,235.75Z" fill="#8000ff"/>
<path d="M332.94,203.50L335.14,207.35L330.74,207.35Z" fill="#8000ff"/>
<path d="M341.12,176.30L343.32,180.15L338.92,180.15Z" fill="#8000ff"/>
<line x1="319.75" y1="320.5" x2="319.75" y2="317.5" stroke="#6a6a6a" stroke-width="0.8"/>
<line x1="364.00" y1="320.5" x2="364.00" y2="317.5" stroke="#6a6a6a" stroke-width="0.8"/>
<line x1="408.25" y1="320.5" x2="408.25" y2="317.5" stroke="#6a6a6a" stroke-width="0.8"/>
<line x1="275.5" y1="292.10" x2="278.5" y2="292.10" stroke="#6a6a6a" stroke-width="0.8"/>
<line x1="275.5" y1="263.70" x2="278.5" y2="263.70" stroke="#6a6a6a" stroke-width="0.8"/>
<line x1="275.5" y1="235.30" x2="278.5" y2="235.30" stroke="#6a6a6a" stroke-width="0.8"/>
<line x1="275.5" y1="206.90" x2="278.5" y2="206.90" stroke="#6a6a6a" stroke-width="0.8"/>
<text x="275.50" y="330.30" class="tl" text-anchor="middle">0</text>
<text x="319.75" y="330.30" class="tl" text-anchor="middle">1</text>
<text x="364.00" y="330.30" class="tl" text-anchor="middle">2</text>
<text x="408.25" y="330.30" class="tl" text-anchor="middle">3</text>
<text x="452.50" y="330.30" class="tl" text-anchor="middle">4</text>
<text x="272.30" y="295.20" class="tl" text-anchor="end">0.2</text>
<text x="272.30" y="266.80" class="tl" text-anchor="end">0.4</text>
<text x="272.30" y="238.40" class="tl" text-anchor="end">0.6</text>
<text x="272.30" y="210.00" class="tl" text-anchor="end">0.8</text>
<text x="272.30" y="181.60" class="tl" text-anchor="end">1.0</text>
<text x="364.00" y="344.50" class="xl" text-anchor="middle">FAA</text>
<text transform="translate(258.70,248.80) rotate(-90)" class="yl" text-anchor="middle">z/h</text>
<text x="231.2" y="345.5" class="pl">(e)</text>
<line x1="385.90" y1="262.25" x2="402.70" y2="262.25" stroke="#0000ff" stroke-width="0.8" fill="none" stroke-dasharray="3.2,2.4"/>
<path d="M394.30,260.05L396.50,262.25L394.30,264.45L392.10,262.25Z" fill="#0000ff"/>
<text x="404.20" y="265.45" class="lg"><tspan font-style="italic">R</tspan><tspan class="sb" dy="1.9">μ</tspan><tspan dy="-1.9">= 0.5</tspan></text>
<line x1="385.90" y1="273.00" x2="402.70" y2="273.00" stroke="#00ffff" stroke-width="0.8" fill="none" stroke-dasharray="3.2,1.6,0.8,1.6"/>
<rect x="392.70" y="271.40" width="3.20" height="3.20" fill="#fff" stroke="#00ffff" stroke-width="0.8"/>
<text x="404.20" y="276.20" class="lg"><tspan font-style="italic">R</tspan><tspan class="sb" dy="1.9">μ</tspan><tspan dy="-1.9">= 1.0</tspan></text>
<line x1="385.90" y1="283.75" x2="402.70" y2="283.75" stroke="#ff8c26" stroke-width="0.8" fill="none"/>
<polygon points="394.30,281.75 394.77,283.10 396.20,283.13 395.06,284.00 395.48,285.37 394.30,284.55 393.12,285.37 393.54,284.00 392.40,283.13 393.83,283.10" fill="#ff8c26"/>
<text x="404.20" y="286.95" class="lg"><tspan font-style="italic">R</tspan><tspan class="sb" dy="1.9">μ</tspan><tspan dy="-1.9">= 1.5</tspan></text>
<line x1="385.90" y1="294.50" x2="402.70" y2="294.50" stroke="#000000" stroke-width="0.8" fill="none"/>
<circle cx="394.30" cy="294.50" r="1.8" fill="#000000"/>
<text x="404.20" y="297.70" class="lg"><tspan font-style="italic">R</tspan><tspan class="sb" dy="1.9">μ</tspan><tspan dy="-1.9">= 2.0</tspan></text>
<line x1="385.90" y1="305.25" x2="402.70" y2="305.25" stroke="#8000ff" stroke-width="0.8" fill="none" stroke-dasharray="3.2,2.4"/>
<path d="M394.30,303.05L396.50,306.90L392.10,306.90Z" fill="#8000ff"/>
<text x="404.20" y="308.45" class="lg"><tspan font-style="italic">R</tspan><tspan class="sb" dy="1.9">μ</tspan><tspan dy="-1.9">= 2.5</tspan></text>
<line x1="385.90" y1="316.00" x2="402.70" y2="316.00" stroke="#33ff33" stroke-width="1.6"/>
<text x="404.20" y="319.20" class="lg">GB 50011-2010</text></g>
<g><rect x="505.5" y="178.5" width="176.00" height="142.00" fill="none" stroke="#6a6a6a" stroke-width="1"/>
<line x1="549.50" y1="320.50" x2="593.50" y2="178.50" stroke="#33ff33" stroke-width="1.5"/>
<polyline points="549.50,320.50 562.70,291.00 580.74,262.80 579.99,234.50 565.30,206.10 591.39,178.50" stroke="#0000ff" stroke-width="0.8" fill="none" stroke-dasharray="3.2,2.4"/>
<path d="M549.50,318.30L551.70,320.50L549.50,322.70L547.30,320.50Z" fill="#0000ff"/>
<path d="M562.70,288.80L564.90,291.00L562.70,293.20L560.50,291.00Z" fill="#0000ff"/>
<path d="M580.74,260.60L582.94,262.80L580.74,265.00L578.54,262.80Z" fill="#0000ff"/>
<path d="M579.99,232.30L582.19,234.50L579.99,236.70L577.79,234.50Z" fill="#0000ff"/>
<path d="M565.30,203.90L567.50,206.10L565.30,208.30L563.10,206.10Z" fill="#0000ff"/>
<path d="M591.39,176.30L593.59,178.50L591.39,180.70L589.19,178.50Z" fill="#0000ff"/>
<polyline points="549.50,320.50 561.38,291.00 577.66,262.80 575.59,234.50 559.58,206.10 576.30,178.50" stroke="#00ffff" stroke-width="0.8" fill="none" stroke-dasharray="3.2,1.6,0.8,1.6"/>
<rect x="547.90" y="318.90" width="3.20" height="3.20" fill="none" stroke="#00ffff" stroke-width="0.8"/>
<rect x="559.78" y="289.40" width="3.20" height="3.20" fill="none" stroke="#00ffff" stroke-width="0.8"/>
<rect x="576.06" y="261.20" width="3.20" height="3.20" fill="none" stroke="#00ffff" stroke-width="0.8"/>
<rect x="573.99" y="232.90" width="3.20" height="3.20" fill="none" stroke="#00ffff" stroke-width="0.8"/>
<rect x="557.98" y="204.50" width="3.20" height="3.20" fill="none" stroke="#00ffff" stroke-width="0.8"/>
<rect x="574.70" y="176.90" width="3.20" height="3.20" fill="none" stroke="#00ffff" stroke-width="0.8"/>
<polyline points="549.50,320.50 562.26,291.00 575.99,262.80 571.59,234.50 556.98,206.10 567.10,178.50" stroke="#ff8c26" stroke-width="0.8" fill="none"/>
<polygon points="549.50,318.50 549.97,319.85 551.40,319.88 550.26,320.75 550.68,322.12 549.50,321.30 548.32,322.12 548.74,320.75 547.60,319.88 549.03,319.85" fill="#ff8c26"/>
<polygon points="562.26,289.00 562.73,290.35 564.16,290.38 563.02,291.25 563.44,292.62 562.26,291.80 561.08,292.62 561.50,291.25 560.36,290.38 561.79,290.35" fill="#ff8c26"/>
<polygon points="575.99,260.80 576.46,262.15 577.89,262.18 576.75,263.05 577.16,264.42 575.99,263.60 574.81,264.42 575.23,263.05 574.09,262.18 575.52,262.15" fill="#ff8c26"/>
<polygon points="571.59,232.50 572.06,233.85 573.49,233.88 572.35,234.75 572.76,236.12 571.59,235.30 570.41,236.12 570.83,234.75 569.69,233.88 571.12,233.85" fill="#ff8c26"/>
<polygon points="556.98,204.10 557.45,205.45 558.88,205.48 557.74,206.35 558.16,207.72 556.98,206.90 555.80,207.72 556.22,206.35 555.08,205.48 556.51,205.45" fill="#ff8c26"/>
<polygon points="567.10,176.50 567.57,177.85 569.00,177.88 567.86,178.75 568.28,180.12 567.10,179.30 565.92,180.12 566.34,178.75 565.20,177.88 566.63,177.85" fill="#ff8c26"/>
<polyline points="549.50,320.50 563.27,291.00 573.96,262.80 568.99,234.50 552.67,206.10 567.98,178.50" stroke="#000000" stroke-width="0.8" fill="none"/>
<circle cx="549.50" cy="320.50" r="1.8" fill="#000000"/>
<circle cx="563.27" cy="291.00" r="1.8" fill="#000000"/>
<circle cx="573.96" cy="262.80" r="1.8" fill="#000000"/>
<circle cx="568.99" cy="234.50" r="1.8" fill="#000000"/>
<circle cx="552.67" cy="206.10" r="1.8" fill="#000000"/>
<circle cx="567.98" cy="178.50" r="1.8" fill="#000000"/>
<polyline points="549.50,320.50 557.86,291.00 562.70,262.80 551.26,234.50 550.73,206.10 568.73,178.50" stroke="#8000ff" stroke-width="0.8" fill="none" stroke-dasharray="3.2,2.4"/>
<path d="M549.50,318.30L551.70,322.15L547.30,322.15Z" fill="#8000ff"/>
<path d="M557.86,288.80L560.06,292.65L555.66,292.65Z" fill="#8000ff"/>
<path d="M562.70,260.60L564.90,264.45L560.50,264.45Z" fill="#8000ff"/>
<path d="M551.26,232.30L553.46,236.15L549.06,236.15Z" fill="#8000ff"/>
<path d="M550.73,203.90L552.93,207.75L548.53,207.75Z" fill="#8000ff"/>
<path d="M568.73,176.30L570.93,180.15L566.53,180.15Z" fill="#8000ff"/>
<polyline points="549.50,320.50 559.36,291.00 561.56,262.80 551.48,234.50 555.88,206.10 556.45,178.50" stroke="#ff0000" stroke-width="0.8" fill="none" stroke-dasharray="3.2,2.4"/>
<circle cx="549.50" cy="320.50" r="1.6" fill="none" stroke="#ff0000" stroke-width="0.8"/>
<circle cx="559.36" cy="291.00" r="1.6" fill="none" stroke="#ff0000" stroke-width="0.8"/>
<circle cx="561.56" cy="262.80" r="1.6" fill="none" stroke="#ff0000" stroke-width="0.8"/>
<circle cx="551.48" cy="234.50" r="1.6" fill="none" stroke="#ff0000" stroke-width="0.8"/>
<circle cx="555.88" cy="206.10" r="1.6" fill="none" stroke="#ff0000" stroke-width="0.8"/>
<circle cx="556.45" cy="178.50" r="1.6" fill="none" stroke="#ff0000" stroke-width="0.8"/>
<line x1="549.50" y1="320.5" x2="549.50" y2="317.5" stroke="#6a6a6a" stroke-width="0.8"/>
<line x1="593.50" y1="320.5" x2="593.50" y2="317.5" stroke="#6a6a6a" stroke-width="0.8"/>
<line x1="637.50" y1="320.5" x2="637.50" y2="317.5" stroke="#6a6a6a" stroke-width="0.8"/>
<line x1="505.5" y1="292.10" x2="508.5" y2="292.10" stroke="#6a6a6a" stroke-width="0.8"/>
<line x1="505.5" y1="263.70" x2="508.5" y2="263.70" stroke="#6a6a6a" stroke-width="0.8"/>
<line x1="505.5" y1="235.30" x2="508.5" y2="235.30" stroke="#6a6a6a" stroke-width="0.8"/>
<line x1="505.5" y1="206.90" x2="508.5" y2="206.90" stroke="#6a6a6a" stroke-width="0.8"/>
<text x="505.50" y="330.30" class="tl" text-anchor="middle">0</text>
<text x="549.50" y="330.30" class="tl" text-anchor="middle">1</text>
<text x="593.50" y="330.30" class="tl" text-anchor="middle">2</text>
<text x="637.50" y="330.30" class="tl" text-anchor="middle">3</text>
<text x="681.50" y="330.30" class="tl" text-anchor="middle">4</text>
<text x="502.30" y="295.20" class="tl" text-anchor="end">0.2</text>
<text x="502.30" y="266.80" class="tl" text-anchor="end">0.4</text>
<text x="502.30" y="238.40" class="tl" text-anchor="end">0.6</text>
<text x="502.30" y="210.00" class="tl" text-anchor="end">0.8</text>
<text x="502.30" y="181.60" class="tl" text-anchor="end">1.0</text>
<text x="593.50" y="344.50" class="xl" text-anchor="middle">FAA</text>
<text transform="translate(488.70,248.80) rotate(-90)" class="yl" text-anchor="middle">z/h</text>
<text x="460.6" y="345.5" class="pl">(f)</text>
<line x1="614.90" y1="251.50" x2="631.70" y2="251.50" stroke="#0000ff" stroke-width="0.8" fill="none" stroke-dasharray="3.2,2.4"/>
<path d="M623.30,249.30L625.50,251.50L623.30,253.70L621.10,251.50Z" fill="#0000ff"/>
<text x="633.20" y="254.70" class="lg"><tspan font-style="italic">R</tspan><tspan class="sb" dy="1.9">μ</tspan><tspan dy="-1.9">= 0.5</tspan></text>
<line x1="614.90" y1="262.25" x2="631.70" y2="262.25" stroke="#00ffff" stroke-width="0.8" fill="none" stroke-dasharray="3.2,1.6,0.8,1.6"/>
<rect x="621.70" y="260.65" width="3.20" height="3.20" fill="#fff" stroke="#00ffff" stroke-width="0.8"/>
<text x="633.20" y="265.45" class="lg"><tspan font-style="italic">R</tspan><tspan class="sb" dy="1.9">μ</tspan><tspan dy="-1.9">= 1.0</tspan></text>
<line x1="614.90" y1="273.00" x2="631.70" y2="273.00" stroke="#ff8c26" stroke-width="0.8" fill="none"/>
<polygon points="623.30,271.00 623.77,272.35 625.20,272.38 624.06,273.25 624.48,274.62 623.30,273.80 622.12,274.62 622.54,273.25 621.40,272.38 622.83,272.35" fill="#ff8c26"/>
<text x="633.20" y="276.20" class="lg"><tspan font-style="italic">R</tspan><tspan class="sb" dy="1.9">μ</tspan><tspan dy="-1.9">= 1.5</tspan></text>
<line x1="614.90" y1="283.75" x2="631.70" y2="283.75" stroke="#000000" stroke-width="0.8" fill="none"/>
<circle cx="623.30" cy="283.75" r="1.8" fill="#000000"/>
<text x="633.20" y="286.95" class="lg"><tspan font-style="italic">R</tspan><tspan class="sb" dy="1.9">μ</tspan><tspan dy="-1.9">= 2.0</tspan></text>
<line x1="614.90" y1="294.50" x2="631.70" y2="294.50" stroke="#8000ff" stroke-width="0.8" fill="none" stroke-dasharray="3.2,2.4"/>
<path d="M623.30,292.30L625.50,296.15L621.10,296.15Z" fill="#8000ff"/>
<text x="633.20" y="297.70" class="lg"><tspan font-style="italic">R</tspan><tspan class="sb" dy="1.9">μ</tspan><tspan dy="-1.9">= 2.5</tspan></text>
<line x1="614.90" y1="305.25" x2="631.70" y2="305.25" stroke="#ff0000" stroke-width="0.8" fill="none" stroke-dasharray="3.2,2.4"/>
<circle cx="623.30" cy="305.25" r="1.6" fill="#fff" stroke="#ff0000" stroke-width="0.8"/>
<text x="633.20" y="308.45" class="lg"><tspan font-style="italic">R</tspan><tspan class="sb" dy="1.9">μ</tspan><tspan dy="-1.9">= 3.0</tspan></text>
<line x1="614.90" y1="316.00" x2="631.70" y2="316.00" stroke="#33ff33" stroke-width="1.6"/>
<text x="633.20" y="319.20" class="lg">GB 50011-2010</text></g>
</svg>
</body></html>
